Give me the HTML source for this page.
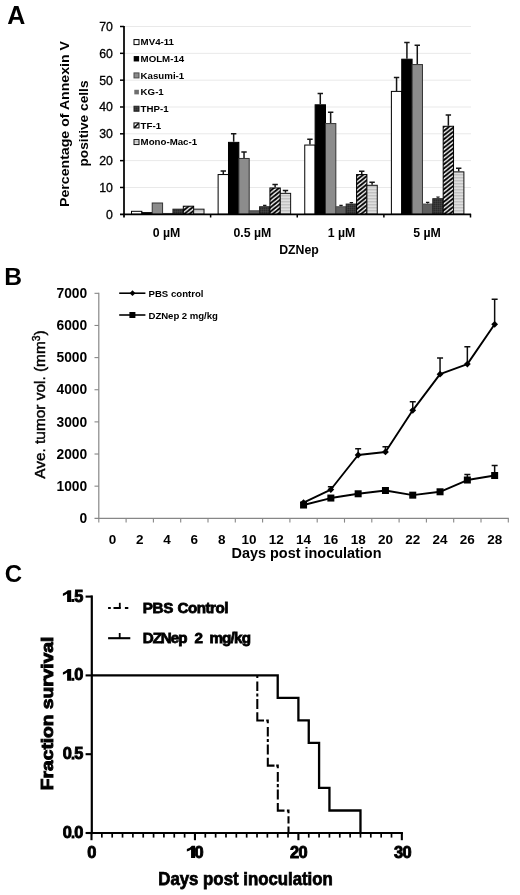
<!DOCTYPE html>
<html><head><meta charset="utf-8"><title>Figure</title>
<style>
html,body{margin:0;padding:0;background:#fff;}
body{width:520px;height:895px;overflow:hidden;font-family:"Liberation Sans",sans-serif;}
svg{display:block;}
svg text{font-family:"Liberation Sans",sans-serif;}
</style></head>
<body>
<svg width="520" height="895" viewBox="0 0 520 895">
<rect width="520" height="895" fill="#fff"/>
<defs>
<filter id="soft" x="0" y="0" width="520" height="895" filterUnits="userSpaceOnUse"><feGaussianBlur stdDeviation="0.38"/></filter>
<pattern id="pTF" width="5.2" height="4.17" patternUnits="userSpaceOnUse" x="443.2" y="2.2"><rect width="5.2" height="4.17" fill="#fff"/><path d="M-5.2 4.17L5.2 -4.17M-5.2 8.34L10.4 -4.17M0 8.34L10.4 0" stroke="#000" stroke-width="1.9"/></pattern>
<pattern id="pTFs" width="2.5" height="2.5" patternUnits="userSpaceOnUse"><rect width="2.5" height="2.5" fill="#fff"/><path d="M-1 1L1 -1M-1 3.5L3.5 -1M1.5 3.5L3.5 1.5" stroke="#000" stroke-width="1"/></pattern>
<pattern id="pMM" width="4" height="1.5" patternUnits="userSpaceOnUse"><rect width="4" height="1.5" fill="#e6e6e6"/><rect width="4" height="0.6" fill="#b0b0b0"/></pattern>
<pattern id="pTHP" width="2" height="2" patternUnits="userSpaceOnUse"><rect width="2" height="2" fill="#383838"/><rect width="1" height="1" fill="#2c2c2c"/><rect x="1" y="1" width="1" height="1" fill="#424242"/></pattern>
</defs>
<g filter="url(#soft)">
<rect width="520" height="895" fill="#fff"/>
<text x="7.20" y="23.80" font-size="25" font-weight="bold" text-anchor="start" fill="#000" >A</text>
<text x="4.30" y="284.50" font-size="24.6" font-weight="bold" text-anchor="start" fill="#000" >B</text>
<text x="4.80" y="582.00" font-size="24" font-weight="bold" text-anchor="start" fill="#000" >C</text>
<line x1="124.0" x2="471.0" y1="187.47" y2="187.47" stroke="#e9e9e9" stroke-width="1"/>
<line x1="124.0" x2="471.0" y1="160.64" y2="160.64" stroke="#e9e9e9" stroke-width="1"/>
<line x1="124.0" x2="471.0" y1="133.81" y2="133.81" stroke="#e9e9e9" stroke-width="1"/>
<line x1="124.0" x2="471.0" y1="106.99" y2="106.99" stroke="#e9e9e9" stroke-width="1"/>
<line x1="124.0" x2="471.0" y1="80.16" y2="80.16" stroke="#e9e9e9" stroke-width="1"/>
<line x1="124.0" x2="471.0" y1="53.33" y2="53.33" stroke="#e9e9e9" stroke-width="1"/>
<line x1="124.0" x2="471.0" y1="26.50" y2="26.50" stroke="#e9e9e9" stroke-width="1"/>
<rect x="131.50" y="211.31" width="10.36" height="2.99" fill="#ffffff" stroke="#000" stroke-width="1"/>
<rect x="141.86" y="212.65" width="10.36" height="1.65" fill="#000000" stroke="#000" stroke-width="1"/>
<rect x="152.22" y="203.00" width="10.36" height="11.30" fill="#8c8c8c" stroke="#333" stroke-width="1"/>
<rect x="162.58" y="213.46" width="10.36" height="0.84" fill="#5e5e5e" stroke="#4a4a4a" stroke-width="1"/>
<rect x="172.94" y="209.17" width="10.36" height="5.13" fill="url(#pTHP)" stroke="#222" stroke-width="1"/>
<rect x="183.30" y="206.21" width="10.36" height="8.09" fill="url(#pTF)" stroke="#000" stroke-width="1"/>
<rect x="193.66" y="209.17" width="10.36" height="5.13" fill="url(#pMM)" stroke="#111" stroke-width="1"/>
<rect x="218.12" y="174.56" width="10.36" height="39.74" fill="#ffffff" stroke="#000" stroke-width="1"/>
<path d="M223.31 174.06V171.11M220.61 171.11H226.00" stroke="#161616" stroke-width="1.5" fill="none"/>
<rect x="228.49" y="142.36" width="10.36" height="71.94" fill="#000000" stroke="#000" stroke-width="1"/>
<path d="M233.67 141.86V133.81M230.97 133.81H236.37" stroke="#161616" stroke-width="1.5" fill="none"/>
<rect x="238.84" y="158.46" width="10.36" height="55.84" fill="#8c8c8c" stroke="#333" stroke-width="1"/>
<path d="M244.03 157.96V152.06M241.33 152.06H246.72" stroke="#161616" stroke-width="1.5" fill="none"/>
<rect x="249.20" y="210.78" width="10.36" height="3.52" fill="#5e5e5e" stroke="#4a4a4a" stroke-width="1"/>
<rect x="259.56" y="206.75" width="10.36" height="7.55" fill="url(#pTHP)" stroke="#222" stroke-width="1"/>
<path d="M264.75 206.25V205.31M263.05 205.31H266.44" stroke="#161616" stroke-width="1.2" fill="none"/>
<rect x="269.93" y="187.97" width="10.36" height="26.33" fill="url(#pTF)" stroke="#000" stroke-width="1"/>
<path d="M275.11 187.47V184.52M272.41 184.52H277.81" stroke="#161616" stroke-width="1.5" fill="none"/>
<rect x="280.28" y="193.34" width="10.36" height="20.96" fill="url(#pMM)" stroke="#111" stroke-width="1"/>
<path d="M285.46 192.84V190.42M282.76 190.42H288.16" stroke="#161616" stroke-width="1.5" fill="none"/>
<rect x="304.75" y="145.05" width="10.36" height="69.25" fill="#ffffff" stroke="#000" stroke-width="1"/>
<path d="M309.93 144.55V139.18M307.23 139.18H312.63" stroke="#161616" stroke-width="1.5" fill="none"/>
<rect x="315.11" y="104.80" width="10.36" height="109.50" fill="#000000" stroke="#000" stroke-width="1"/>
<path d="M320.29 104.30V93.57M317.59 93.57H322.99" stroke="#161616" stroke-width="1.5" fill="none"/>
<rect x="325.47" y="123.58" width="10.36" height="90.72" fill="#8c8c8c" stroke="#333" stroke-width="1"/>
<path d="M330.65 123.08V112.35M327.95 112.35H333.35" stroke="#161616" stroke-width="1.5" fill="none"/>
<rect x="335.83" y="206.75" width="10.36" height="7.55" fill="#5e5e5e" stroke="#4a4a4a" stroke-width="1"/>
<path d="M341.01 206.25V205.31M339.31 205.31H342.71" stroke="#161616" stroke-width="1.2" fill="none"/>
<rect x="346.19" y="204.07" width="10.36" height="10.23" fill="url(#pTHP)" stroke="#222" stroke-width="1"/>
<path d="M351.37 203.57V202.63M349.67 202.63H353.07" stroke="#161616" stroke-width="1.2" fill="none"/>
<rect x="356.55" y="174.56" width="10.36" height="39.74" fill="url(#pTF)" stroke="#000" stroke-width="1"/>
<path d="M361.73 174.06V171.37M359.03 171.37H364.43" stroke="#161616" stroke-width="1.5" fill="none"/>
<rect x="366.91" y="185.29" width="10.36" height="29.01" fill="url(#pMM)" stroke="#111" stroke-width="1"/>
<path d="M372.09 184.79V182.37M369.39 182.37H374.79" stroke="#161616" stroke-width="1.5" fill="none"/>
<rect x="391.38" y="91.39" width="10.36" height="122.91" fill="#ffffff" stroke="#000" stroke-width="1"/>
<path d="M396.56 90.89V77.47M393.86 77.47H399.25" stroke="#161616" stroke-width="1.5" fill="none"/>
<rect x="401.74" y="59.19" width="10.36" height="155.11" fill="#000000" stroke="#000" stroke-width="1"/>
<path d="M406.92 58.69V42.60M404.22 42.60H409.62" stroke="#161616" stroke-width="1.5" fill="none"/>
<rect x="412.10" y="64.56" width="10.36" height="149.74" fill="#8c8c8c" stroke="#333" stroke-width="1"/>
<path d="M417.28 64.06V45.28M414.58 45.28H419.98" stroke="#161616" stroke-width="1.5" fill="none"/>
<rect x="422.45" y="204.07" width="10.36" height="10.23" fill="#5e5e5e" stroke="#4a4a4a" stroke-width="1"/>
<path d="M427.63 203.57V202.36M425.94 202.36H429.33" stroke="#161616" stroke-width="1.2" fill="none"/>
<rect x="432.81" y="198.70" width="10.36" height="15.60" fill="url(#pTHP)" stroke="#222" stroke-width="1"/>
<path d="M438.00 198.20V197.00M436.30 197.00H439.69" stroke="#161616" stroke-width="1.2" fill="none"/>
<rect x="443.18" y="126.27" width="10.36" height="88.03" fill="url(#pTF)" stroke="#000" stroke-width="1"/>
<path d="M448.36 125.77V115.03M445.66 115.03H451.06" stroke="#161616" stroke-width="1.5" fill="none"/>
<rect x="453.53" y="171.87" width="10.36" height="42.43" fill="url(#pMM)" stroke="#111" stroke-width="1"/>
<path d="M458.71 171.37V168.15M456.01 168.15H461.41" stroke="#161616" stroke-width="1.5" fill="none"/>
<line x1="124.0" x2="124.0" y1="26.0" y2="217.5" stroke="#000" stroke-width="1.75"/>
<line x1="120.0" x2="471.1" y1="214.3" y2="214.3" stroke="#000" stroke-width="1.75"/>
<line x1="120.0" x2="124.0" y1="187.47" y2="187.47" stroke="#000" stroke-width="1.5"/>
<line x1="120.0" x2="124.0" y1="160.64" y2="160.64" stroke="#000" stroke-width="1.5"/>
<line x1="120.0" x2="124.0" y1="133.81" y2="133.81" stroke="#000" stroke-width="1.5"/>
<line x1="120.0" x2="124.0" y1="106.99" y2="106.99" stroke="#000" stroke-width="1.5"/>
<line x1="120.0" x2="124.0" y1="80.16" y2="80.16" stroke="#000" stroke-width="1.5"/>
<line x1="120.0" x2="124.0" y1="53.33" y2="53.33" stroke="#000" stroke-width="1.5"/>
<line x1="120.0" x2="124.0" y1="26.50" y2="26.50" stroke="#000" stroke-width="1.5"/>
<line x1="210.62" x2="210.62" y1="214.3" y2="217.5" stroke="#000" stroke-width="1.5"/>
<line x1="297.25" x2="297.25" y1="214.3" y2="217.5" stroke="#000" stroke-width="1.5"/>
<line x1="383.88" x2="383.88" y1="214.3" y2="217.5" stroke="#000" stroke-width="1.5"/>
<line x1="470.50" x2="470.50" y1="214.3" y2="217.5" stroke="#000" stroke-width="1.5"/>
<text x="112.90" y="218.75" font-size="12.5" font-weight="normal" text-anchor="end" fill="#000" textLength="6.85" lengthAdjust="spacingAndGlyphs" stroke="#000" stroke-width="0.3">0</text>
<text x="112.90" y="191.92" font-size="12.5" font-weight="normal" text-anchor="end" fill="#000" textLength="13.7" lengthAdjust="spacingAndGlyphs" stroke="#000" stroke-width="0.3">10</text>
<text x="112.90" y="165.09" font-size="12.5" font-weight="normal" text-anchor="end" fill="#000" textLength="13.7" lengthAdjust="spacingAndGlyphs" stroke="#000" stroke-width="0.3">20</text>
<text x="112.90" y="138.26" font-size="12.5" font-weight="normal" text-anchor="end" fill="#000" textLength="13.7" lengthAdjust="spacingAndGlyphs" stroke="#000" stroke-width="0.3">30</text>
<text x="112.90" y="111.44" font-size="12.5" font-weight="normal" text-anchor="end" fill="#000" textLength="13.7" lengthAdjust="spacingAndGlyphs" stroke="#000" stroke-width="0.3">40</text>
<text x="112.90" y="84.61" font-size="12.5" font-weight="normal" text-anchor="end" fill="#000" textLength="13.7" lengthAdjust="spacingAndGlyphs" stroke="#000" stroke-width="0.3">50</text>
<text x="112.90" y="57.78" font-size="12.5" font-weight="normal" text-anchor="end" fill="#000" textLength="13.7" lengthAdjust="spacingAndGlyphs" stroke="#000" stroke-width="0.3">60</text>
<text x="112.90" y="30.95" font-size="12.5" font-weight="normal" text-anchor="end" fill="#000" textLength="13.7" lengthAdjust="spacingAndGlyphs" stroke="#000" stroke-width="0.3">70</text>
<text x="166.51" y="236.70" font-size="12.3" font-weight="bold" text-anchor="middle" fill="#000" >0 µM</text>
<text x="252.44" y="236.70" font-size="12.3" font-weight="bold" text-anchor="middle" fill="#000" >0.5 µM</text>
<text x="341.46" y="236.70" font-size="12.3" font-weight="bold" text-anchor="middle" fill="#000" >1 µM</text>
<text x="427.09" y="236.70" font-size="12.3" font-weight="bold" text-anchor="middle" fill="#000" >5 µM</text>
<text x="299.00" y="254.30" font-size="12.3" font-weight="bold" text-anchor="middle" fill="#000" >DZNep</text>
<text transform="translate(68.60,124.00) rotate(-90)" font-size="13.5" font-weight="bold" text-anchor="middle" fill="#000" textLength="166" lengthAdjust="spacingAndGlyphs" >Percentage of Annexin V</text>
<text transform="translate(87.60,123.50) rotate(-90)" font-size="13.5" font-weight="bold" text-anchor="middle" fill="#000" textLength="86" lengthAdjust="spacingAndGlyphs" >positive cells</text>
<rect x="134" y="39.60" width="5" height="5" fill="#fff" stroke="#000" stroke-width="1"/>
<text x="140.60" y="45.45" font-size="9.7" font-weight="bold" text-anchor="start" fill="#000" >MV4-11</text>
<rect x="133.7" y="56.06" width="5.4" height="5.4" fill="#000"/>
<text x="140.60" y="62.11" font-size="9.7" font-weight="bold" text-anchor="start" fill="#000" >MOLM-14</text>
<rect x="134" y="72.92" width="5" height="5" fill="#8c8c8c" stroke="#4a4a4a" stroke-width="1"/>
<text x="140.60" y="78.77" font-size="9.7" font-weight="bold" text-anchor="start" fill="#000" >Kasumi-1</text>
<rect x="134.3" y="89.78" width="4.6" height="4.6" fill="#6e6e6e"/>
<text x="140.60" y="95.43" font-size="9.7" font-weight="bold" text-anchor="start" fill="#000" >KG-1</text>
<rect x="134" y="106.24" width="5" height="5" fill="url(#pTHP)" stroke="#222" stroke-width="1"/>
<text x="140.60" y="112.09" font-size="9.7" font-weight="bold" text-anchor="start" fill="#000" >THP-1</text>
<rect x="134" y="122.90" width="5" height="5" fill="#fff" stroke="#000" stroke-width="1"/>
<path d="M134.3 127.60L138.7 123.20" stroke="#000" stroke-width="1.5"/>
<text x="140.60" y="128.75" font-size="9.7" font-weight="bold" text-anchor="start" fill="#000" >TF-1</text>
<rect x="134" y="139.56" width="5" height="5" fill="url(#pMM)" stroke="#111" stroke-width="1"/>
<text x="140.60" y="145.41" font-size="9.7" font-weight="bold" text-anchor="start" fill="#000" >Mono-Mac-1</text>
<line x1="98.8" x2="98.8" y1="292.82" y2="518.8" stroke="#878787" stroke-width="1.2"/>
<line x1="94.5" x2="508.8" y1="518.3" y2="518.3" stroke="#878787" stroke-width="1.2"/>
<line x1="94.5" x2="98.8" y1="486.16" y2="486.16" stroke="#878787" stroke-width="1.1"/>
<line x1="94.5" x2="98.8" y1="454.02" y2="454.02" stroke="#878787" stroke-width="1.1"/>
<line x1="94.5" x2="98.8" y1="421.88" y2="421.88" stroke="#878787" stroke-width="1.1"/>
<line x1="94.5" x2="98.8" y1="389.74" y2="389.74" stroke="#878787" stroke-width="1.1"/>
<line x1="94.5" x2="98.8" y1="357.60" y2="357.60" stroke="#878787" stroke-width="1.1"/>
<line x1="94.5" x2="98.8" y1="325.46" y2="325.46" stroke="#878787" stroke-width="1.1"/>
<line x1="94.5" x2="98.8" y1="293.32" y2="293.32" stroke="#878787" stroke-width="1.1"/>
<line x1="98.80" x2="98.80" y1="518.3" y2="522.5999999999999" stroke="#878787" stroke-width="1.1"/>
<line x1="126.10" x2="126.10" y1="518.3" y2="522.5999999999999" stroke="#878787" stroke-width="1.1"/>
<line x1="153.40" x2="153.40" y1="518.3" y2="522.5999999999999" stroke="#878787" stroke-width="1.1"/>
<line x1="180.70" x2="180.70" y1="518.3" y2="522.5999999999999" stroke="#878787" stroke-width="1.1"/>
<line x1="208.00" x2="208.00" y1="518.3" y2="522.5999999999999" stroke="#878787" stroke-width="1.1"/>
<line x1="235.30" x2="235.30" y1="518.3" y2="522.5999999999999" stroke="#878787" stroke-width="1.1"/>
<line x1="262.60" x2="262.60" y1="518.3" y2="522.5999999999999" stroke="#878787" stroke-width="1.1"/>
<line x1="289.90" x2="289.90" y1="518.3" y2="522.5999999999999" stroke="#878787" stroke-width="1.1"/>
<line x1="317.20" x2="317.20" y1="518.3" y2="522.5999999999999" stroke="#878787" stroke-width="1.1"/>
<line x1="344.50" x2="344.50" y1="518.3" y2="522.5999999999999" stroke="#878787" stroke-width="1.1"/>
<line x1="371.80" x2="371.80" y1="518.3" y2="522.5999999999999" stroke="#878787" stroke-width="1.1"/>
<line x1="399.10" x2="399.10" y1="518.3" y2="522.5999999999999" stroke="#878787" stroke-width="1.1"/>
<line x1="426.40" x2="426.40" y1="518.3" y2="522.5999999999999" stroke="#878787" stroke-width="1.1"/>
<line x1="453.70" x2="453.70" y1="518.3" y2="522.5999999999999" stroke="#878787" stroke-width="1.1"/>
<line x1="481.00" x2="481.00" y1="518.3" y2="522.5999999999999" stroke="#878787" stroke-width="1.1"/>
<line x1="508.30" x2="508.30" y1="518.3" y2="522.5999999999999" stroke="#878787" stroke-width="1.1"/>
<text x="87.20" y="523.00" font-size="13.8" font-weight="bold" text-anchor="end" fill="#000" >0</text>
<text x="87.20" y="490.86" font-size="13.8" font-weight="bold" text-anchor="end" fill="#000" >1000</text>
<text x="87.20" y="458.72" font-size="13.8" font-weight="bold" text-anchor="end" fill="#000" >2000</text>
<text x="87.20" y="426.58" font-size="13.8" font-weight="bold" text-anchor="end" fill="#000" >3000</text>
<text x="87.20" y="394.44" font-size="13.8" font-weight="bold" text-anchor="end" fill="#000" >4000</text>
<text x="87.20" y="362.30" font-size="13.8" font-weight="bold" text-anchor="end" fill="#000" >5000</text>
<text x="87.20" y="330.16" font-size="13.8" font-weight="bold" text-anchor="end" fill="#000" >6000</text>
<text x="87.20" y="298.02" font-size="13.8" font-weight="bold" text-anchor="end" fill="#000" >7000</text>
<text x="112.45" y="544.10" font-size="13.5" font-weight="bold" text-anchor="middle" fill="#000" >0</text>
<text x="139.75" y="544.10" font-size="13.5" font-weight="bold" text-anchor="middle" fill="#000" >2</text>
<text x="167.05" y="544.10" font-size="13.5" font-weight="bold" text-anchor="middle" fill="#000" >4</text>
<text x="194.35" y="544.10" font-size="13.5" font-weight="bold" text-anchor="middle" fill="#000" >6</text>
<text x="221.65" y="544.10" font-size="13.5" font-weight="bold" text-anchor="middle" fill="#000" >8</text>
<text x="248.95" y="544.10" font-size="13.5" font-weight="bold" text-anchor="middle" fill="#000" >10</text>
<text x="276.25" y="544.10" font-size="13.5" font-weight="bold" text-anchor="middle" fill="#000" >12</text>
<text x="303.55" y="544.10" font-size="13.5" font-weight="bold" text-anchor="middle" fill="#000" >14</text>
<text x="330.85" y="544.10" font-size="13.5" font-weight="bold" text-anchor="middle" fill="#000" >16</text>
<text x="358.15" y="544.10" font-size="13.5" font-weight="bold" text-anchor="middle" fill="#000" >18</text>
<text x="385.45" y="544.10" font-size="13.5" font-weight="bold" text-anchor="middle" fill="#000" >20</text>
<text x="412.75" y="544.10" font-size="13.5" font-weight="bold" text-anchor="middle" fill="#000" >22</text>
<text x="440.05" y="544.10" font-size="13.5" font-weight="bold" text-anchor="middle" fill="#000" >24</text>
<text x="467.35" y="544.10" font-size="13.5" font-weight="bold" text-anchor="middle" fill="#000" >26</text>
<text x="494.65" y="544.10" font-size="13.5" font-weight="bold" text-anchor="middle" fill="#000" >28</text>
<text x="306.50" y="558.30" font-size="14.4" font-weight="bold" text-anchor="middle" fill="#000" textLength="150" lengthAdjust="spacingAndGlyphs" >Days post inoculation</text>
<text transform="translate(44.80,404.60) rotate(-90)" font-size="15" font-weight="normal" text-anchor="middle" fill="#000" textLength="148.3" lengthAdjust="spacingAndGlyphs" stroke="#000" stroke-width="0.45">Ave. tumor vol. (mm<tspan font-size="10" dy="-5">3</tspan><tspan dy="5">)</tspan></text>
<path d="M330.85 489.53V486.64M327.85 486.64H333.85" stroke="#111" stroke-width="1.5" fill="none"/>
<path d="M358.15 454.98V448.72M355.15 448.72H361.15" stroke="#111" stroke-width="1.5" fill="none"/>
<path d="M385.45 451.96V446.82M382.45 446.82H388.45" stroke="#111" stroke-width="1.5" fill="none"/>
<path d="M412.75 410.31V401.63M409.75 401.63H415.75" stroke="#111" stroke-width="1.5" fill="none"/>
<path d="M440.05 374.15V358.08M437.05 358.08H443.05" stroke="#111" stroke-width="1.5" fill="none"/>
<path d="M467.35 364.12V346.77M464.35 346.77H470.35" stroke="#111" stroke-width="1.5" fill="none"/>
<path d="M494.65 324.30V299.23M491.65 299.23H497.65" stroke="#111" stroke-width="1.5" fill="none"/>
<path d="M467.35 480.02V474.56M464.35 474.56H470.35" stroke="#111" stroke-width="1.5" fill="none"/>
<path d="M494.65 475.52V465.56M491.65 465.56H497.65" stroke="#111" stroke-width="1.5" fill="none"/>
<polyline points="303.55,502.55 330.85,489.53 358.15,454.98 385.45,451.96 412.75,410.31 440.05,374.15 467.35,364.12 494.65,324.30" fill="none" stroke="#000" stroke-width="1.9" stroke-linejoin="round"/>
<polyline points="303.55,505.03 330.85,498.05 358.15,493.78 385.45,490.50 412.75,495.16 440.05,491.78 467.35,480.02 494.65,475.52" fill="none" stroke="#000" stroke-width="1.9" stroke-linejoin="round"/>
<path d="M303.55 499.15L306.95 502.55L303.55 505.95L300.15 502.55Z" fill="#000"/>
<path d="M330.85 486.13L334.25 489.53L330.85 492.93L327.45 489.53Z" fill="#000"/>
<path d="M358.15 451.58L361.55 454.98L358.15 458.38L354.75 454.98Z" fill="#000"/>
<path d="M385.45 448.56L388.85 451.96L385.45 455.36L382.05 451.96Z" fill="#000"/>
<path d="M412.75 406.91L416.15 410.31L412.75 413.71L409.35 410.31Z" fill="#000"/>
<path d="M440.05 370.75L443.45 374.15L440.05 377.55L436.65 374.15Z" fill="#000"/>
<path d="M467.35 360.72L470.75 364.12L467.35 367.52L463.95 364.12Z" fill="#000"/>
<path d="M494.65 320.90L498.05 324.30L494.65 327.70L491.25 324.30Z" fill="#000"/>
<rect x="300.05" y="501.53" width="7.0" height="7.0" fill="#000"/>
<rect x="327.35" y="494.55" width="7.0" height="7.0" fill="#000"/>
<rect x="354.65" y="490.28" width="7.0" height="7.0" fill="#000"/>
<rect x="381.95" y="487.00" width="7.0" height="7.0" fill="#000"/>
<rect x="409.25" y="491.66" width="7.0" height="7.0" fill="#000"/>
<rect x="436.55" y="488.28" width="7.0" height="7.0" fill="#000"/>
<rect x="463.85" y="476.52" width="7.0" height="7.0" fill="#000"/>
<rect x="491.15" y="472.02" width="7.0" height="7.0" fill="#000"/>
<line x1="119.2" x2="145.4" y1="293.2" y2="293.2" stroke="#000" stroke-width="1.6"/>
<path d="M132.5 290.3L135.4 293.2L132.5 296.1L129.6 293.2Z" fill="#000"/>
<text x="148.50" y="296.50" font-size="9.6" font-weight="bold" text-anchor="start" fill="#000" textLength="55" lengthAdjust="spacing" >PBS control</text>
<line x1="119.2" x2="145.4" y1="315.0" y2="315.0" stroke="#000" stroke-width="1.6"/>
<rect x="129.4" y="312.0" width="6" height="6" fill="#000"/>
<text x="148.50" y="318.50" font-size="9.6" font-weight="bold" text-anchor="start" fill="#000" textLength="69.3" lengthAdjust="spacing" >DZNep 2 mg/kg</text>
<line x1="91.8" x2="91.8" y1="595.40" y2="834.1" stroke="#000" stroke-width="2.2"/>
<line x1="90.7" x2="402.95" y1="833.0" y2="833.0" stroke="#000" stroke-width="2.2"/>
<line x1="85.6" x2="91.5" y1="833.00" y2="833.00" stroke="#000" stroke-width="2.1"/>
<g transform="translate(0,838.40) scale(1,1.0) translate(0,-838.40)">
<text x="62.66" y="837.95" font-size="16.4" font-weight="bold" stroke="#000" stroke-width="0.9">0</text>
<rect x="71.55" y="835.40" width="2.9" height="3.0" fill="#000"/>
<text x="74.31" y="837.95" font-size="16.4" font-weight="bold" stroke="#000" stroke-width="0.9">0</text>
</g>
<line x1="85.6" x2="91.5" y1="754.20" y2="754.20" stroke="#000" stroke-width="2.1"/>
<g transform="translate(0,759.60) scale(1,1.0) translate(0,-759.60)">
<text x="62.66" y="759.15" font-size="16.4" font-weight="bold" stroke="#000" stroke-width="0.9">0</text>
<rect x="71.55" y="756.60" width="2.9" height="3.0" fill="#000"/>
<text x="74.31" y="759.15" font-size="16.4" font-weight="bold" stroke="#000" stroke-width="0.9">5</text>
</g>
<line x1="85.6" x2="91.5" y1="675.40" y2="675.40" stroke="#000" stroke-width="2.1"/>
<g transform="translate(0,680.80) scale(1,1.0) translate(0,-680.80)">
<path d="M71.20 680.80H67.10V672.60Q65.40 673.90 62.90 674.70V672.20Q66.30 671.20 67.90 669.10H71.20Z" fill="#000"/>
<rect x="71.40" y="677.80" width="2.9" height="3.0" fill="#000"/>
<text x="74.16" y="680.35" font-size="16.4" font-weight="bold" stroke="#000" stroke-width="0.9">0</text>
</g>
<line x1="85.6" x2="91.5" y1="596.60" y2="596.60" stroke="#000" stroke-width="2.1"/>
<g transform="translate(0,602.00) scale(1,1.0) translate(0,-602.00)">
<path d="M71.20 602.00H67.10V593.80Q65.40 595.10 62.90 595.90V593.40Q66.30 592.40 67.90 590.30H71.20Z" fill="#000"/>
<rect x="71.40" y="599.00" width="2.9" height="3.0" fill="#000"/>
<text x="74.16" y="601.55" font-size="16.4" font-weight="bold" stroke="#000" stroke-width="0.9">5</text>
</g>
<line x1="91.50" x2="91.50" y1="833.0" y2="840.2" stroke="#000" stroke-width="2.1"/>
<line x1="101.84" x2="101.84" y1="833.0" y2="837.6" stroke="#000" stroke-width="1.7"/>
<line x1="112.19" x2="112.19" y1="833.0" y2="837.6" stroke="#000" stroke-width="1.7"/>
<line x1="122.53" x2="122.53" y1="833.0" y2="837.6" stroke="#000" stroke-width="1.7"/>
<line x1="132.88" x2="132.88" y1="833.0" y2="837.6" stroke="#000" stroke-width="1.7"/>
<line x1="143.22" x2="143.22" y1="833.0" y2="837.6" stroke="#000" stroke-width="1.7"/>
<line x1="153.57" x2="153.57" y1="833.0" y2="837.6" stroke="#000" stroke-width="1.7"/>
<line x1="163.92" x2="163.92" y1="833.0" y2="837.6" stroke="#000" stroke-width="1.7"/>
<line x1="174.26" x2="174.26" y1="833.0" y2="837.6" stroke="#000" stroke-width="1.7"/>
<line x1="184.61" x2="184.61" y1="833.0" y2="837.6" stroke="#000" stroke-width="1.7"/>
<line x1="194.95" x2="194.95" y1="833.0" y2="840.2" stroke="#000" stroke-width="2.1"/>
<line x1="205.30" x2="205.30" y1="833.0" y2="837.6" stroke="#000" stroke-width="1.7"/>
<line x1="215.64" x2="215.64" y1="833.0" y2="837.6" stroke="#000" stroke-width="1.7"/>
<line x1="225.99" x2="225.99" y1="833.0" y2="837.6" stroke="#000" stroke-width="1.7"/>
<line x1="236.33" x2="236.33" y1="833.0" y2="837.6" stroke="#000" stroke-width="1.7"/>
<line x1="246.68" x2="246.68" y1="833.0" y2="837.6" stroke="#000" stroke-width="1.7"/>
<line x1="257.02" x2="257.02" y1="833.0" y2="837.6" stroke="#000" stroke-width="1.7"/>
<line x1="267.37" x2="267.37" y1="833.0" y2="837.6" stroke="#000" stroke-width="1.7"/>
<line x1="277.71" x2="277.71" y1="833.0" y2="837.6" stroke="#000" stroke-width="1.7"/>
<line x1="288.06" x2="288.06" y1="833.0" y2="837.6" stroke="#000" stroke-width="1.7"/>
<line x1="298.40" x2="298.40" y1="833.0" y2="840.2" stroke="#000" stroke-width="2.1"/>
<line x1="308.75" x2="308.75" y1="833.0" y2="837.6" stroke="#000" stroke-width="1.7"/>
<line x1="319.09" x2="319.09" y1="833.0" y2="837.6" stroke="#000" stroke-width="1.7"/>
<line x1="329.44" x2="329.44" y1="833.0" y2="837.6" stroke="#000" stroke-width="1.7"/>
<line x1="339.78" x2="339.78" y1="833.0" y2="837.6" stroke="#000" stroke-width="1.7"/>
<line x1="350.12" x2="350.12" y1="833.0" y2="837.6" stroke="#000" stroke-width="1.7"/>
<line x1="360.47" x2="360.47" y1="833.0" y2="837.6" stroke="#000" stroke-width="1.7"/>
<line x1="370.81" x2="370.81" y1="833.0" y2="837.6" stroke="#000" stroke-width="1.7"/>
<line x1="381.16" x2="381.16" y1="833.0" y2="837.6" stroke="#000" stroke-width="1.7"/>
<line x1="391.50" x2="391.50" y1="833.0" y2="837.6" stroke="#000" stroke-width="1.7"/>
<line x1="401.85" x2="401.85" y1="833.0" y2="840.2" stroke="#000" stroke-width="2.1"/>
<g transform="translate(0,858.00) scale(1,1.05) translate(0,-858.00)">
<text x="87.16" y="857.55" font-size="16.4" font-weight="bold" stroke="#000" stroke-width="0.9">0</text>
</g>
<g transform="translate(0,858.00) scale(1,1.05) translate(0,-858.00)">
<path d="M195.15 858.00H191.05V849.80Q189.35 851.10 186.85 851.90V849.40Q190.25 848.40 191.85 846.30H195.15Z" fill="#000"/>
<text x="194.61" y="857.55" font-size="16.4" font-weight="bold" stroke="#000" stroke-width="0.9">0</text>
</g>
<g transform="translate(0,858.00) scale(1,1.05) translate(0,-858.00)">
<text x="290.06" y="857.55" font-size="16.4" font-weight="bold" stroke="#000" stroke-width="0.9">2</text>
<text x="298.41" y="857.55" font-size="16.4" font-weight="bold" stroke="#000" stroke-width="0.9">0</text>
</g>
<g transform="translate(0,858.00) scale(1,1.05) translate(0,-858.00)">
<text x="394.11" y="857.55" font-size="16.4" font-weight="bold" stroke="#000" stroke-width="0.9">3</text>
<text x="402.46" y="857.55" font-size="16.4" font-weight="bold" stroke="#000" stroke-width="0.9">0</text>
</g>
<text x="158.30" y="884.70" font-size="17.8" font-weight="bold" text-anchor="start" fill="#000" textLength="174.5" lengthAdjust="spacingAndGlyphs" stroke="#000" stroke-width="0.75">Days post inoculation</text>
<text transform="translate(52.70,713.40) rotate(-90)" font-size="17.4" font-weight="bold" text-anchor="middle" fill="#000" textLength="153.5" lengthAdjust="spacingAndGlyphs" stroke="#000" stroke-width="0.95">Fraction survival</text>
<path d="M257.3 675.0V678.1M257.3 681.5V691.1M257.3 693.5V696.6M257.3 699.0V708.9M257.3 712.3V720.5H264.0M266.2 720.5H267.8V723.2M267.8 727.0V736.6M267.8 739.0V742.1M267.8 744.5V754.4M267.8 757.8V765.6H274.5M276.2 765.6H277.8V768.3M277.8 772.1V781.7M277.8 784.1V787.2M277.8 789.6V799.5M277.8 802.9V810.6H284.5M286.9 810.6H288.5V813.3M288.5 816.3V823.6M288.5 826.4V833.0" fill="none" stroke="#000" stroke-width="2.05"/>
<path d="M91.50 675.40H277.71V697.91H298.40V720.43H308.75V742.94H319.09V787.97H329.44V810.49H360.47V833.00" fill="none" stroke="#000" stroke-width="2.3"/>
<path d="M108.1 607.9H110.8M113.5 607.9H120.7M124.9 607.9H128.3" stroke="#000" stroke-width="2" fill="none"/>
<path d="M119.8 608.5V602.8" stroke="#000" stroke-width="1.8" fill="none"/>
<text x="142.70" y="613.00" font-size="15.2" font-weight="bold" text-anchor="start" fill="#000" textLength="30.6" lengthAdjust="spacing" stroke="#000" stroke-width="0.8">PBS</text>
<text x="177.50" y="613.00" font-size="15.2" font-weight="bold" text-anchor="start" fill="#000" textLength="51.0" lengthAdjust="spacing" stroke="#000" stroke-width="0.8">Control</text>
<path d="M108.1 638.2H130.3" stroke="#000" stroke-width="2.1" fill="none"/>
<path d="M119.7 638.5V633" stroke="#000" stroke-width="1.8" fill="none"/>
<text x="142.70" y="643.00" font-size="15.2" font-weight="bold" text-anchor="start" fill="#000" textLength="44.8" lengthAdjust="spacing" stroke="#000" stroke-width="0.8">DZNep</text>
<text x="194.60" y="643.00" font-size="15.2" font-weight="bold" text-anchor="start" fill="#000" stroke="#000" stroke-width="0.8">2</text>
<text x="209.40" y="643.00" font-size="15.2" font-weight="bold" text-anchor="start" fill="#000" textLength="41.6" lengthAdjust="spacing" stroke="#000" stroke-width="0.8">mg/kg</text>
</g>
</svg>
</body></html>
